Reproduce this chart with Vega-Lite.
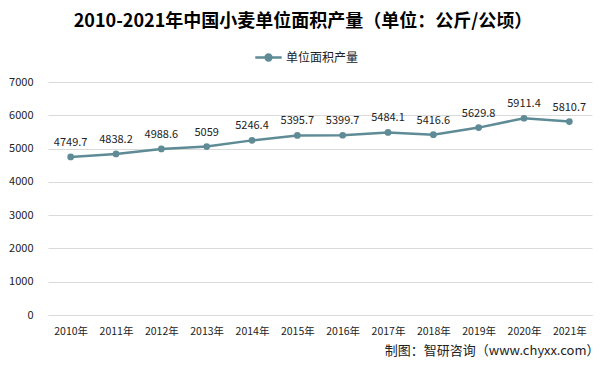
{
  "$schema": "https://vega.github.io/schema/vega-lite/v6.json",
  "autosize": {"type": "none"},
  "width": 544,
  "height": 233,
  "padding": {"left": 48, "top": 82, "right": 16, "bottom": 51},
  "background": "white",
  "title": {
    "text": "2010-2021年中国小麦单位面积产量（单位：公斤/公顷）",
    "font": "Noto Sans CJK SC",
    "fontSize": 18,
    "fontWeight": "bold",
    "color": "#000000",
    "anchor": "middle",
    "dx": -17,
    "offset": 12
  },
  "data": {
    "values": [
      {"year": "2010年", "value": 4749.7, "s": "单位面积产量"},
      {"year": "2011年", "value": 4838.2, "s": "单位面积产量"},
      {"year": "2012年", "value": 4988.6, "s": "单位面积产量"},
      {"year": "2013年", "value": 5059, "s": "单位面积产量"},
      {"year": "2014年", "value": 5246.4, "s": "单位面积产量"},
      {"year": "2015年", "value": 5395.7, "s": "单位面积产量"},
      {"year": "2016年", "value": 5399.7, "s": "单位面积产量"},
      {"year": "2017年", "value": 5484.1, "s": "单位面积产量"},
      {"year": "2018年", "value": 5416.6, "s": "单位面积产量"},
      {"year": "2019年", "value": 5629.8, "s": "单位面积产量"},
      {"year": "2020年", "value": 5911.4, "s": "单位面积产量"},
      {"year": "2021年", "value": 5810.7, "s": "单位面积产量"}
    ]
  },
  "encoding": {
    "x": {
      "field": "year",
      "type": "ordinal",
      "scale": {"type": "point", "padding": 0.5},
      "axis": {
        "title": "制图：智研咨询（www.chyxx.com）",
        "titleAnchor": "end",
        "titleAlign": "right",
        "titleX": 551,
        "titleFont": "Noto Sans CJK SC",
        "titleFontSize": 13,
        "titleFontWeight": "normal",
        "titleColor": "#222222",
        "titlePadding": 8,
        "labelAngle": 0,
        "labelFont": "Noto Sans CJK SC",
        "labelFontSize": 10.5,
        "labelColor": "#222222",
        "labelPadding": 11,
        "ticks": false,
        "domain": true,
        "domainColor": "#D9D9D9",
        "grid": false
      }
    },
    "y": {
      "field": "value",
      "type": "quantitative",
      "scale": {"domain": [0, 7000]},
      "axis": {
        "title": null,
        "values": [0, 1000, 2000, 3000, 4000, 5000, 6000, 7000],
        "format": "d",
        "labelFont": "Noto Sans CJK SC",
        "labelFontSize": 11,
        "labelColor": "#222222",
        "labelPadding": 15,
        "ticks": false,
        "domain": false,
        "grid": true,
        "gridColor": "#D9D9D9"
      }
    }
  },
  "layer": [
    {
      "mark": {"type": "line", "strokeWidth": 2.5},
      "encoding": {
        "color": {
          "field": "s",
          "type": "nominal",
          "scale": {"range": ["#5E8B95"]},
          "legend": {
            "orient": "none",
            "legendX": 206,
            "legendY": -39,
            "title": null,
            "direction": "horizontal",
            "labelFont": "Noto Sans CJK SC",
            "labelFontSize": 12,
            "labelColor": "#222222",
            "labelOffset": 3,
            "symbolType": "M-1,0L1,0M-0.22,0A0.22,0.22 0 1,1 0.22,0A0.22,0.22 0 1,1 -0.22,0Z",
            "symbolSize": 700,
            "symbolStrokeWidth": 2.5,
            "symbolFillColor": "#5E8B95",
            "symbolStrokeColor": "#5E8B95"
          }
        }
      }
    },
    {
      "mark": {"type": "point", "filled": true, "size": 45, "opacity": 1, "color": "#5E8B95"}
    },
    {
      "mark": {"type": "text", "baseline": "bottom", "dy": -9, "font": "Noto Sans CJK SC", "fontSize": 11, "color": "#222222"},
      "encoding": {
        "text": {"field": "value", "type": "quantitative"}
      }
    }
  ],
  "config": {"view": {"stroke": null}}
}
